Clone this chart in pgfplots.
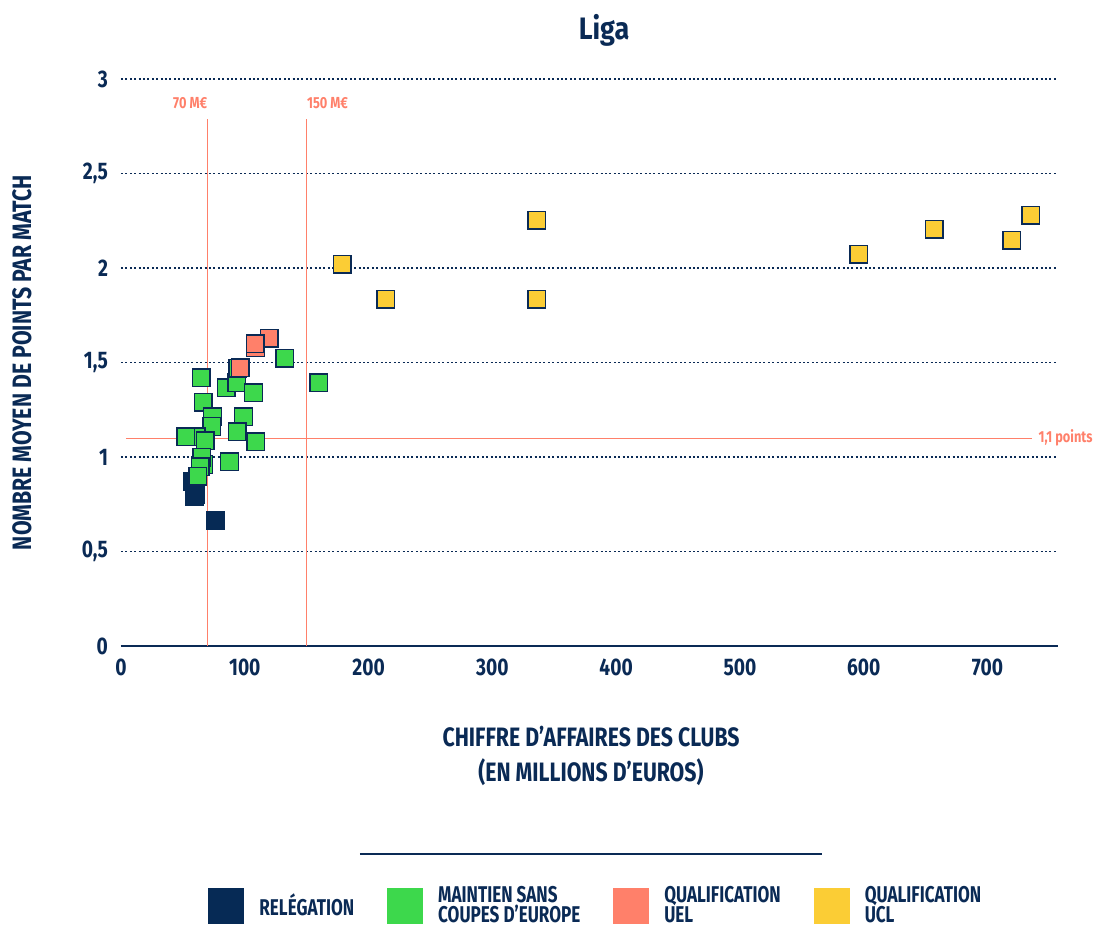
\documentclass[border=0pt]{standalone}
\usepackage{pgfplots}
\pgfplotsset{compat=1.18}
\usepackage{fontspec}
\setmainfont{Fira Sans}[FakeStretch=0.8]
\newfontfamily\legfont{Fira Sans}[FakeStretch=0.75]
\newfontfamily\titlefont{Fira Sans}[FakeStretch=0.87]
\definecolor{navy}{HTML}{0A2A55}
\definecolor{rel}{HTML}{062A55}
\definecolor{mgreen}{HTML}{3DD84C}
\definecolor{salmon}{HTML}{FF806A}
\definecolor{myellow}{HTML}{FBCD35}
\begin{document}
\begin{tikzpicture}
\useasboundingbox (-60.5pt,-140.5pt) rectangle (487.5pt,323pt);
\begin{axis}[
  at={(0,0)}, anchor=south west,
  scale only axis, width=468.5pt, height=283.5pt,
  xmin=0, xmax=757, ymin=0, ymax=3,
  clip=false,
  axis lines*=left,
  y axis line style={draw=none},
  x axis line style={navy, line width=1.25pt, -},
  major tick length=0pt,
  xtick={0,100,...,700}, ytick={0,0.5,...,3},
  ymajorgrids, grid style={navy, line width=0.6pt, dash pattern=on 1pt off 1.2pt},
  /pgf/number format/.cd, use comma, 1000 sep={}, assume math mode=true, /pgfplots/.cd,
  tick label style={font=\fontsize{12}{12}\selectfont\bfseries, text=navy},
  xticklabel style={yshift=-3pt},
  yticklabel style={xshift=-3pt},
  every axis title shift=0pt,
  title={Liga},
  title style={at={(axis description cs:0.5155,1.0864)}, anchor=center, font=\titlefont\fontsize{15.5}{15.5}\selectfont\bfseries, text=navy},
  xlabel={CHIFFRE D’AFFAIRES DES CLUBS\\(EN MILLIONS D’EUROS)},
  xlabel style={at={(axis description cs:0.5016,-0.194)}, anchor=center, align=center, font=\fontsize{13.3}{17.5}\selectfont\bfseries, text=navy},
  ylabel={NOMBRE MOYEN DE POINTS PAR MATCH},
  ylabel style={at={(axis description cs:-0.1057,0.5)}, anchor=center, font=\fontsize{13.3}{13.3}\selectfont\bfseries, text=navy},
  legend columns=4,
  legend image code/.code={\fill[#1, draw=none] (0pt,-9pt) rectangle (18pt,9pt);},
  legend style={at={(axis description cs:0.0929,-0.4586)}, anchor=west, draw=none, fill=none, inner sep=0pt,
    font=\legfont\fontsize{11.4}{10.2}\selectfont\bfseries, text=navy,
    cells={anchor=west, align=left},
    /tikz/every odd column/.append style={column sep=5.5pt},
    /tikz/every even column/.append style={column sep=14.5pt}},
]
% reference lines
\addplot[forget plot, salmon, line width=0.6pt] coordinates {(70,0) (70,2.79)};
\addplot[forget plot, salmon, line width=0.6pt] coordinates {(150,0) (150,2.79)};
\addplot[forget plot, salmon, line width=0.6pt] coordinates {(4,1.1) (736,1.1)};
% relegation
\addplot[only marks, mark=square*, mark size=4.4pt, draw=rel, fill=rel, line width=0.7pt] coordinates {
(57.7,0.87) (60.3,0.80) (59.5,0.79) (76,0.663)};
\addlegendentry{RELÉGATION}
% maintien
\addplot[only marks, mark=square*, mark size=4.4pt, draw=navy, fill=mgreen, line width=0.7pt] coordinates {
(132.3,1.522) (159.8,1.393) (64.9,1.42) (84.9,1.367) (93.5,1.393) (94.3,1.47)
(107,1.34) (66.5,1.289) (74,1.213) (99,1.213) (73.2,1.161) (94,1.134)
(60.6,1.107) (52.5,1.107) (68,1.085) (109,1.081) (67,0.96) (65.2,1.0) (87.6,0.975)
(63.9,0.949) (62,0.899)};
\addlegendentry{MAINTIEN SANS\\COUPES D’EUROPE}
% UEL
\addplot[only marks, mark=square*, mark size=4.4pt, draw=navy, fill=salmon, line width=0.7pt] coordinates {
(108.6,1.577) (119.6,1.628) (108.3,1.60) (96.2,1.473)};
\addlegendentry{QUALIFICATION\\UEL}
% UCL
\addplot[only marks, mark=square*, mark size=4.4pt, draw=navy, fill=myellow, line width=0.7pt] coordinates {
(178.7,2.02) (214,1.836) (336,2.254) (336,1.836) (596,2.074) (657,2.206) (719.5,2.148) (735,2.28)};
\addlegendentry{QUALIFICATION\\UCL}
% annotations
\node[anchor=east, text=salmon, font=\fontsize{8}{8}\selectfont\bfseries, inner sep=0pt] at (axis cs:70,2.873) {70 M€};
\node[anchor=west, text=salmon, font=\fontsize{8}{8}\selectfont\bfseries, inner sep=0pt] at (axis cs:150,2.873) {150 M€};
\node[anchor=west, text=salmon, font=\fontsize{8}{8}\selectfont\bfseries, inner sep=0pt] at (axis cs:741,1.1) {1,1 points};
\draw[navy, line width=0.7pt] (axis description cs:0.255,-0.3668) -- (axis description cs:0.748,-0.3668);
\end{axis}
\end{tikzpicture}
\end{document}
